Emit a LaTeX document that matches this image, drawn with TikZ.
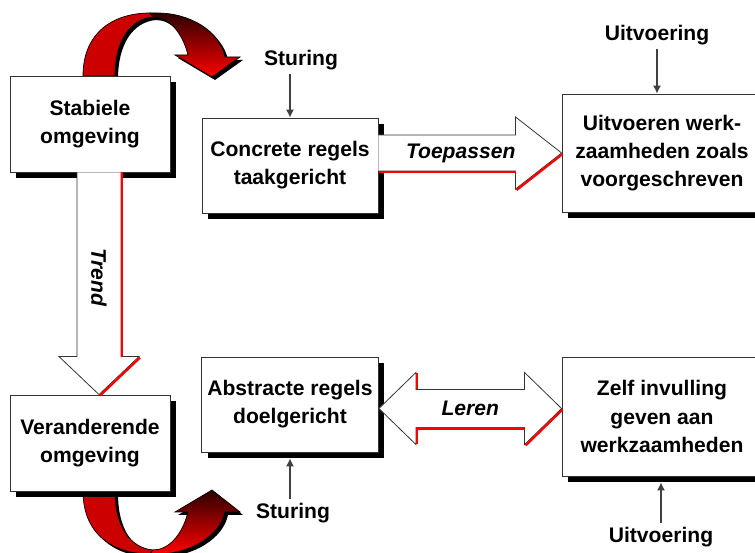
\documentclass[tikz,border=0pt]{standalone}
\usepackage{fontspec}
\setmainfont{Liberation Sans}
\usetikzlibrary{shadows,calc,arrows.meta}

\definecolor{rood}{RGB}{204,0,0}
\definecolor{donkerrood}{RGB}{45,0,0}
\definecolor{felrood}{RGB}{255,0,0}

\begin{document}
\begin{tikzpicture}[x=0.02cm, y=-0.02cm]
\tikzset{ >={Latex[length=4.5pt,width=4.5pt]},
  blok/.style={draw=black!80, fill=white, line width=0.5pt, align=center,
    font=\fontsize{12}{16}\selectfont\bfseries,
    drop shadow={shadow xshift=0.12cm, shadow yshift=-0.12cm, opacity=1, fill=black}},
  blokpijl/.style={draw=black!80, fill=white, line width=0.45pt},
  roodrand/.style={draw=red, line width=1.3pt},
  pijl/.style={->, draw=black!75, line width=0.6pt},
  tekst/.style={font=\fontsize{12}{16}\selectfont\bfseries, inner sep=2pt},
  schuin/.style={font=\fontsize{12}{16}\selectfont\bfseries\itshape},
}

\clip (0,0) rectangle (755,553);
\fill[white] (0,0) rectangle (755,553);

%%% Gebogen pijlen

% stabiele omgeving -> sturing
\begin{scope}[shift={(90,76)}]
\fill[black, shift={(3,3)}] (-7,0) .. controls (-7,-45) and (25,-63) .. (60,-63) -- (67,-63)
  .. controls (100,-63) and (130,-45) .. (135,-19) -- (150,-19) -- (122,1) -- (85,-21) -- (98,-21)
  .. controls (92,-45) and (78,-59) .. (63,-59) .. controls (40,-57) and (25,-35) .. (25,0) -- cycle;
\filldraw[fill=rood, draw=black, line width=0.4pt] (-7,0) .. controls (-7,-45) and (25,-63) .. (60,-63)
  -- (63,-59) .. controls (40,-57) and (25,-35) .. (25,0) -- cycle;
\shadedraw[top color=donkerrood, bottom color=felrood, draw=black, line width=0.4pt] (60,-63) -- (67,-63)
  .. controls (100,-63) and (130,-45) .. (135,-19) -- (150,-19) -- (122,1) -- (85,-21) -- (98,-21)
  .. controls (92,-45) and (78,-59) .. (63,-59) -- cycle;
\end{scope}

% veranderende omgeving -> sturing
\begin{scope}[shift={(90,491)}]
\fill[black, shift={(3,3)}] (-7,0) .. controls (-7,45) and (25,63) .. (60,63) -- (67,63)
  .. controls (100,63) and (130,45) .. (135,21) -- (150,21) -- (122,-1) -- (85,21) -- (98,21)
  .. controls (92,45) and (78,59) .. (63,59) .. controls (40,57) and (25,35) .. (25,0) -- cycle;
\filldraw[fill=rood, draw=black, line width=0.4pt] (-7,0) .. controls (-7,45) and (25,63) .. (60,63)
  -- (63,59) .. controls (40,57) and (25,35) .. (25,0) -- cycle;
\shadedraw[top color=donkerrood, bottom color=felrood, draw=black, line width=0.4pt] (60,63) -- (67,63)
  .. controls (100,63) and (130,45) .. (135,21) -- (150,21) -- (122,-1) -- (85,21) -- (98,21)
  .. controls (92,45) and (78,59) .. (63,59) -- cycle;
\end{scope}

%%% Blokken

\node [blok, minimum width=3.2cm, minimum height=1.92cm] (stabiel) at (90,124) {Stabiele\\omgeving};
\node [blok, minimum width=3.52cm, minimum height=1.9cm] (concreet) at (290,165.5) {Concrete regels\\taakgericht};
\node [blok, minimum width=4cm, minimum height=2.36cm] (uitvoeren) at (662,153) {Uitvoeren werk-\\zaamheden zoals\\voorgeschreven};
\node [blok, minimum width=3.52cm, minimum height=1.9cm] (abstract) at (290,404.5) {Abstracte regels\\doelgericht};
\node [blok, minimum width=4cm, minimum height=2.38cm] (zelf) at (662,416.5) {Zelf invulling\\geven aan\\werkzaamheden};
\node [blok, minimum width=3.2cm, minimum height=1.92cm] (veranderend) at (90,443) {Veranderende\\omgeving};

%%% Blokpijlen

% Trend
\coordinate (trendT) at ($(veranderend.north)+(9,0)$);
\coordinate (trendA) at ($(trendT)+(0,-38)$);
\draw[blokpijl] ($(trendA |- stabiel.south)+(-22,0)$) -- ($(trendA)+(-22,0)$) -- ($(trendA)+(-40,0)$)
  -- (trendT) -- ($(trendA)+(40,0)$) -- ($(trendA)+(22,0)$) -- ($(trendA |- stabiel.south)+(22,0)$);
\draw[roodrand] ($(trendA |- stabiel.south)+(23,0)$) -- ($(trendA)+(23,0)$);
\draw[roodrand] ($(trendA)+(41,1)$) -- ($(trendT)+(1,1)$);
\node [schuin, rotate=-90] (trend) at ($(trendA |- stabiel.south)!0.57!(trendA)$) {Trend};

% Toepassen
\coordinate (toepA) at ($(uitvoeren.west)+(-46,0)$);
\draw[blokpijl] ($(concreet.east |- toepA)+(0,-18)$) -- ($(toepA)+(0,-18)$) -- ($(toepA)+(0,-36)$)
  -- (uitvoeren.west) -- ($(toepA)+(0,36)$) -- ($(toepA)+(0,18)$) -- ($(concreet.east |- toepA)+(0,18)$);
\draw[roodrand] ($(concreet.east |- toepA)+(1,19)$) -- ($(toepA)+(0,19)$);
\draw[roodrand] ($(toepA)+(1,37)$) -- ($(uitvoeren.west)+(1,1)$);
\node [schuin] (toepassen) at ($(concreet.east |- toepA)!0.6!(toepA)$) {Toepassen};

% Leren
\coordinate (lerenL) at ($(abstract.east)+(0,4)$);
\coordinate (lerenR) at (zelf.west |- lerenL);
\draw[blokpijl] (lerenL) -- ($(lerenL)+(37,-36)$) -- ($(lerenL)+(37,-19)$) -- ($(lerenR)+(-37,-19)$)
  -- ($(lerenR)+(-37,-36)$) -- (lerenR) -- ($(lerenR)+(-37,36)$) -- ($(lerenR)+(-37,19)$)
  -- ($(lerenL)+(37,19)$) -- ($(lerenL)+(37,36)$) -- cycle;
\draw[roodrand] ($(lerenL)+(38,-35)$) -- ($(lerenL)+(38,-19)$);
\draw[roodrand] ($(lerenL)+(38,36)$) -- ($(lerenL)+(38,20)$) -- ($(lerenR)+(-37,20)$);
\draw[roodrand] ($(lerenR)+(-36,37)$) -- ($(lerenR)+(1,1)$);
\node [schuin] (leren) at ($(lerenL)!0.5!(lerenR)$) {Leren};

%%% Sturing en uitvoering

\node [tekst] (sturing1) at (301,60) {Sturing};
\draw[pijl] (concreet.north |- sturing1.south) -- (concreet.north);

\node [tekst] (uitvoering1) at (657,35) {Uitvoering};
\draw[pijl] (uitvoering1.south) -- (uitvoering1.south |- uitvoeren.north);

\node [tekst] (sturing2) at (293,513) {Sturing};
\draw[pijl] (abstract.south |- sturing2.north) -- ($(abstract.south)+(0,6)$);

\node [tekst] (uitvoering2) at (661,537) {Uitvoering};
\draw[pijl] (uitvoering2.north) -- ($(uitvoering2.north |- zelf.south)+(0,6)$);

\end{tikzpicture}
\end{document}
